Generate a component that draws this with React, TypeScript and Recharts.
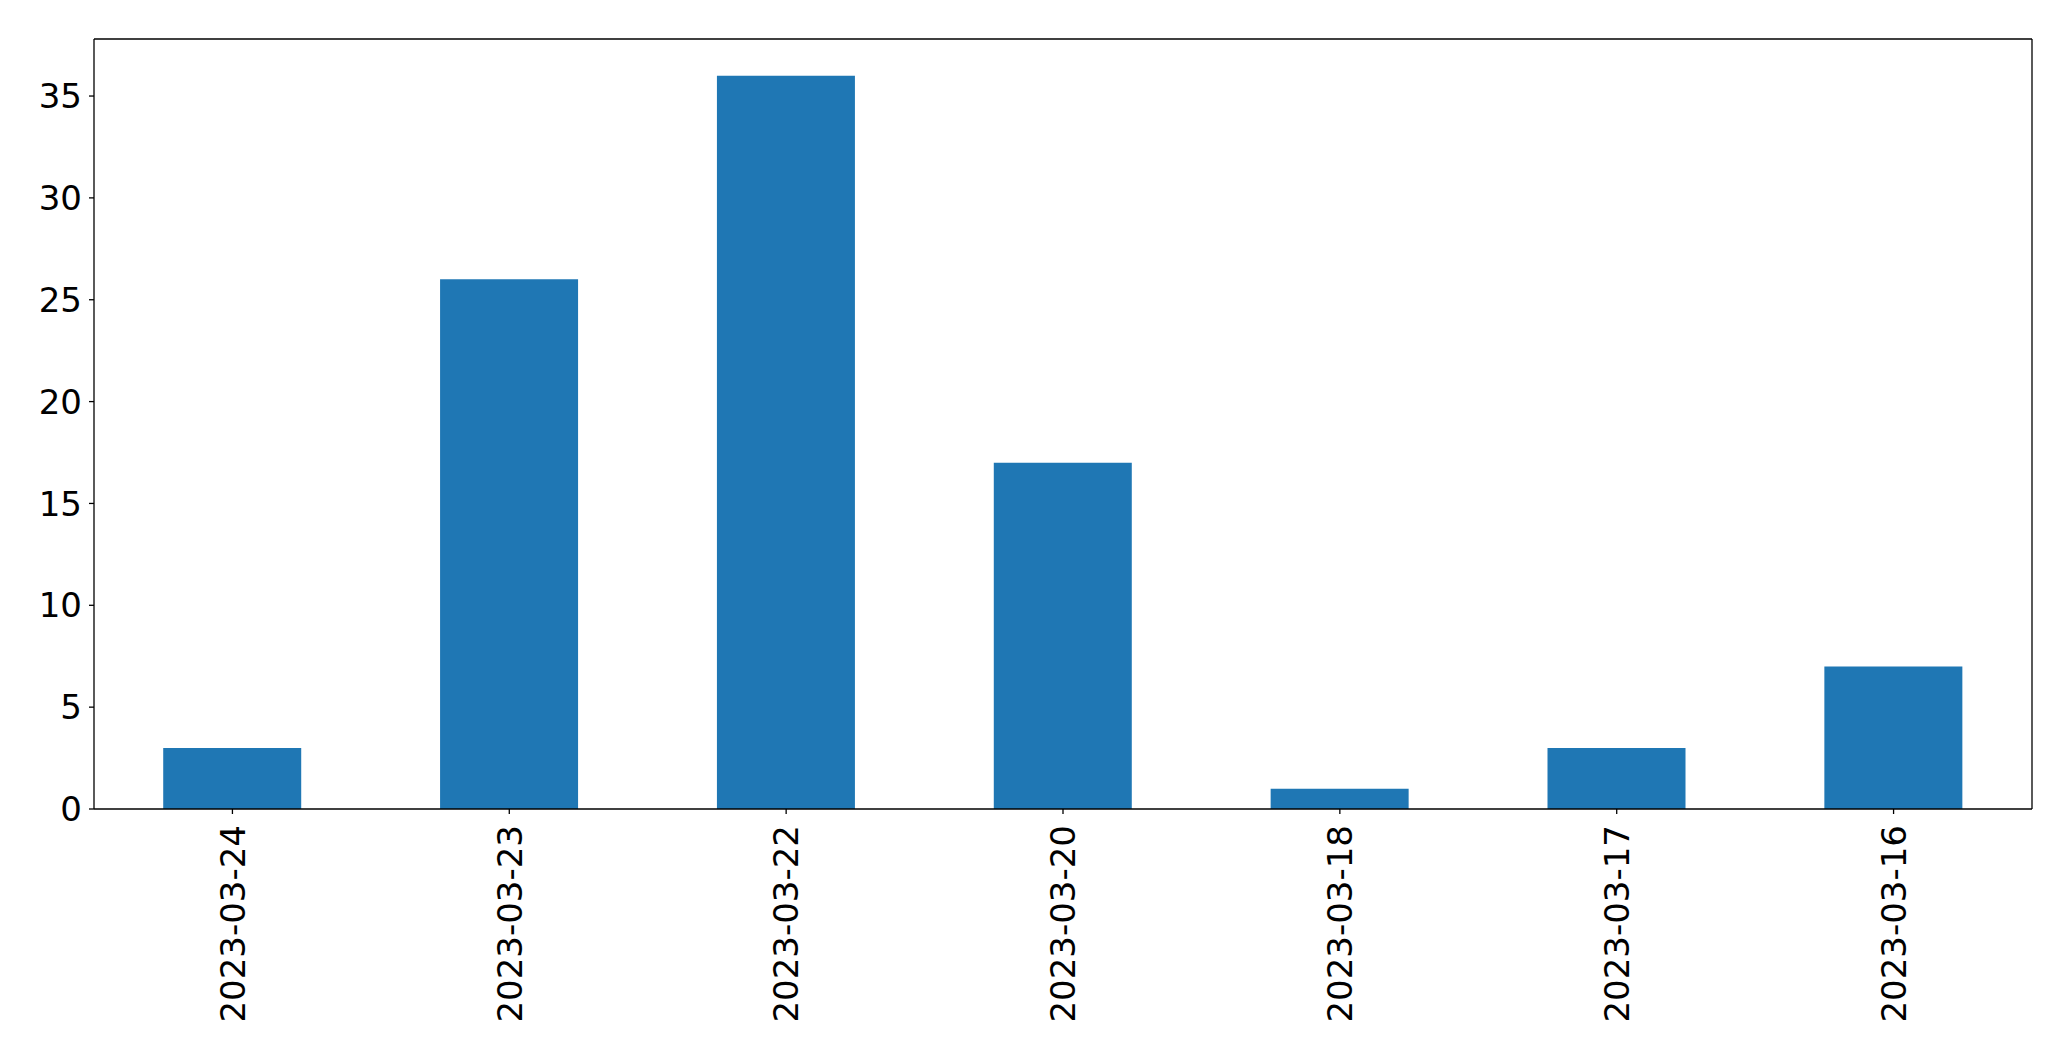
import React from 'react';
import { BarChart, Bar, XAxis, YAxis } from 'recharts';

const dates = [
  '2023-03-24',
  '2023-03-23',
  '2023-03-22',
  '2023-03-20',
  '2023-03-18',
  '2023-03-17',
  '2023-03-16',
];
const counts = [3, 26, 36, 17, 1, 3, 7];
const yTicks = [0, 5, 10, 15, 20, 25, 30, 35];

const FONT = 'DejaVu Sans';

const data = dates.map((date, i) => ({ date, count: counts[i] }));

function DateTick({ x, y, payload }: any) {
  return (
    <g transform={`translate(${x},${y})`}>
      <text
        transform="rotate(-90)"
        textAnchor="end"
        dy="0.36em"
        fontFamily={FONT}
        fontSize={34}
        fill="#000"
      >
        {payload.value}
      </text>
    </g>
  );
}

export default function App() {
  return (
    <div style={{ width: 2071, height: 1061 }}>
      <style>{'body{margin:0}'}</style>
      <BarChart
        width={2071}
        height={1061}
        data={data}
        margin={{ top: 38, right: 38, bottom: 0, left: 0 }}
        barCategoryGap="25%"
      >
        <XAxis
          dataKey="date"
          height={252}
          interval={0}
          tick={<DateTick />}
          tickSize={5}
          tickMargin={11}
          stroke="#000"
          axisLine={{ stroke: '#000', strokeWidth: 1.3 }}
          tickLine={{ stroke: '#000', strokeWidth: 1.3 }}
        />
        <XAxis
          xAxisId="top"
          dataKey="date"
          orientation="top"
          height={1}
          tick={false}
          tickLine={false}
          stroke="#000"
          axisLine={{ stroke: '#000', strokeWidth: 1.3 }}
        />
        <YAxis
          width={94}
          domain={[0, 37.8]}
          ticks={yTicks}
          interval={0}
          tickSize={5}
          tickMargin={7}
          stroke="#000"
          tick={{ fontFamily: FONT, fontSize: 34, fill: '#000' }}
          axisLine={{ stroke: '#000', strokeWidth: 1.3 }}
          tickLine={{ stroke: '#000', strokeWidth: 1.3 }}
        />
        <YAxis
          yAxisId="right"
          orientation="right"
          width={1}
          domain={[0, 37.8]}
          tick={false}
          tickLine={false}
          stroke="#000"
          axisLine={{ stroke: '#000', strokeWidth: 1.3 }}
        />
        <Bar dataKey="count" fill="#1f77b4" isAnimationActive={false} />
      </BarChart>
    </div>
  );
}
